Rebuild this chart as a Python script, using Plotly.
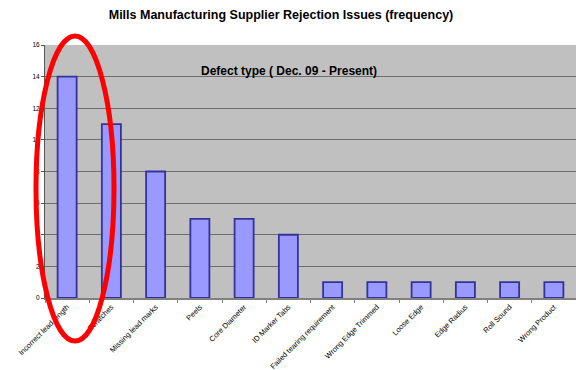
import plotly.graph_objects as go

# Rejection counts by defect type
defect_types = [
    "Incorrect lead length",
    "Scratches",
    "Missing lead marks",
    "Peels",
    "Core Diameter",
    "ID Marker Tabs",
    "Failed tearing requirement",
    "Wrong Edge Trimmed",
    "Loose Edge",
    "Edge Radius",
    "Roll Sound",
    "Wrong Product",
]
frequency = [14, 11, 8, 5, 5, 4, 1, 1, 1, 1, 1, 1]
y_ticks = [0, 2, 4, 6, 8, 10, 12, 14, 16]

W, H = 576, 370
ML, MR, MT, MB = 45, 0, 45, 72
pw, ph = W - ML - MR, H - MT - MB


def px_x(x):
    return (x - ML) / pw


def px_y(y):
    return (H - MB - y) / ph


fig = go.Figure(
    go.Bar(
        x=defect_types,
        y=frequency,
        width=0.43,
        marker=dict(color="#9999ff", line=dict(color="#333399", width=1.8)),
    )
)

fig.update_layout(
    width=W,
    height=H,
    margin=dict(l=ML, r=MR, t=MT, b=MB),
    paper_bgcolor="white",
    plot_bgcolor="#c0c0c0",
    showlegend=False,
    font=dict(family="Liberation Sans, Arial, sans-serif", color="black"),
    title=dict(
        text="<b>Mills Manufacturing Supplier Rejection Issues (frequency)</b>",
        x=px_x(281),
        xref="paper",
        xanchor="center",
        y=1 - 15 / H,
        yanchor="middle",
        font=dict(size=12.5),
    ),
    xaxis=dict(
        tickangle=-45,
        tickfont=dict(size=7.5),
        showgrid=False,
        ticks="outside",
        ticklen=3,
        tickson="boundaries",
        tickcolor="#808080",
        showline=True,
        linecolor="#808080",
        linewidth=1.5,
    ),
    yaxis=dict(
        range=[0, 16],
        tickvals=y_ticks,
        tickfont=dict(size=6.5),
        showgrid=True,
        gridcolor="#6e6e6e",
        gridwidth=1,
        ticks="outside",
        ticklen=3,
        tickcolor="#555555",
        showline=True,
        linecolor="#555555",
        linewidth=1,
        zeroline=False,
    ),
    annotations=[
        dict(
            text="<b>Defect type ( Dec. 09 - Present)</b>",
            xref="paper",
            yref="paper",
            x=px_x(289),
            y=px_y(71),
            xanchor="center",
            yanchor="middle",
            showarrow=False,
            font=dict(size=12),
        )
    ],
    shapes=[
        dict(
            type="circle",
            xref="paper",
            yref="paper",
            x0=px_x(36),
            x1=px_x(114),
            y0=px_y(341),
            y1=px_y(36),
            line=dict(color="#ff0000", width=5),
            layer="above",
        )
    ],
)

fig.write_html("out.html")
